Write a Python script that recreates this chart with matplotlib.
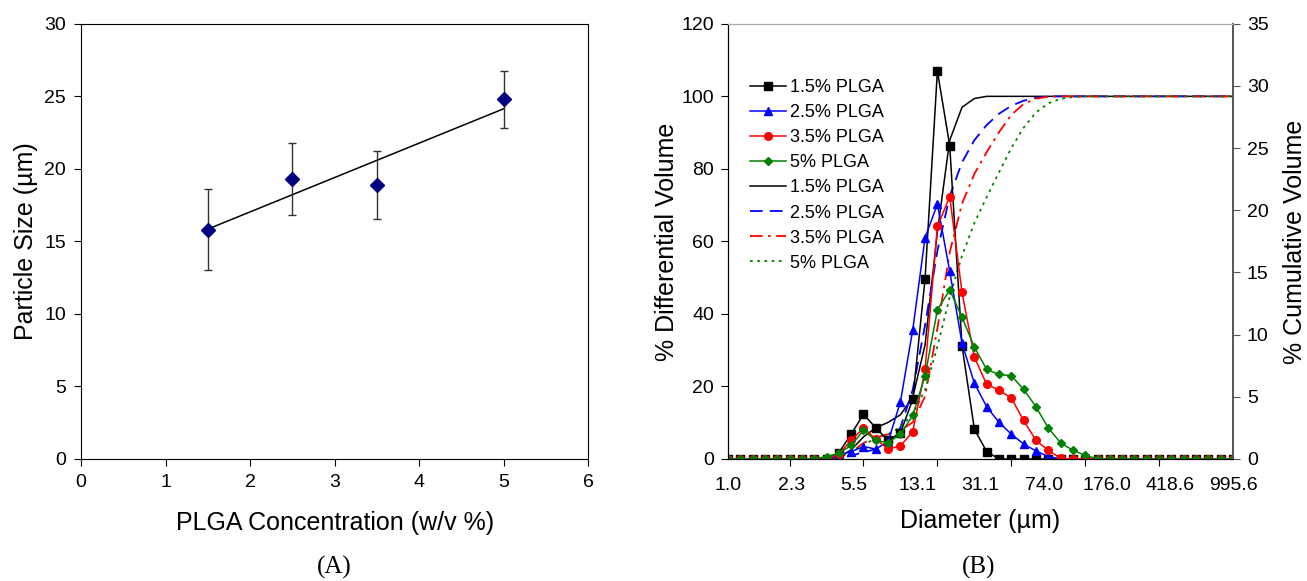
import matplotlib.pyplot as plt
import numpy as np

plt.rcParams["font.family"] = ["Liberation Sans", "DejaVu Sans"]

# panel A: mean particle size vs PLGA concentration
conc = [1.5, 2.5, 3.5, 5.0]
size_mean = [15.8, 19.3, 18.9, 24.8]
size_err = [2.8, 2.5, 2.35, 1.95]

# panel B: size distribution (Coulter bins), 42 bins
bin_labels = ["1.0", "2.3", "5.5", "13.1", "31.1", "74.0", "176.0", "418.6", "995.6"]

diff_15 = [0] * 9 + [0.5, 2.0, 3.6, 2.5, 1.5, 2.1, 4.8, 14.5, 31.2, 25.2, 9.1, 2.4, 0.6] + [0] * 20
diff_25 = [0] * 9 + [0.3, 0.6, 1.0, 0.8, 1.4, 4.6, 10.4, 17.8, 20.5, 15.1, 9.3, 6.1, 4.2,
                     2.95, 2.0, 1.2, 0.65, 0.2] + [0] * 15
diff_35 = [0] * 9 + [0.4, 1.5, 2.5, 1.6, 0.8, 1.05, 2.2, 7.2, 18.7, 21.1, 13.4, 8.2, 6.0,
                     5.55, 4.9, 3.1, 1.5, 0.7, 0.05] + [0] * 14
diff_5 = [0] * 8 + [0.2, 0.45, 1.1, 2.3, 1.5, 1.3, 2.0, 3.5, 6.7, 12.0, 13.6, 11.4, 9.0, 7.2,
                    6.8, 6.7, 5.6, 4.2, 2.5, 1.3, 0.7, 0.3] + [0] * 12

cum_15 = [0] * 9 + [0.5, 2.5, 6.1, 8.6, 10.1, 12.2, 17.0, 31.5, 62.7, 87.9, 97.0, 99.4, 100] + [100] * 20
cum_25 = [0] * 9 + [0.3, 0.9, 1.9, 2.7, 4.1, 8.7, 19.1, 36.9, 57.4, 72.5, 81.8, 87.9, 92.1,
                    95.2, 97.4, 98.8, 99.6, 100] + [100] * 15
cum_35 = [0] * 9 + [0.4, 1.9, 4.4, 6.0, 6.8, 7.9, 10.1, 17.3, 36.0, 57.0, 70.4, 78.6, 84.6,
                    90.1, 94.9, 97.9, 99.4, 99.9, 100] + [100] * 14
cum_5 = [0] * 8 + [0.2, 0.65, 1.75, 4.05, 5.55, 6.85, 8.85, 12.35, 19.05, 31.05, 44.65, 56.05,
                   65.05, 72.25, 79.05, 85.75, 91.35, 95.55, 98.05, 99.35, 99.8, 100] + [100] * 12

fig = plt.figure(figsize=(13.07, 5.81), dpi=100)

# ---- (A)
axA = fig.add_axes([0.062, 0.21, 0.388, 0.749])
fit = np.polyfit(conc, size_mean, 1)
axA.plot(conc, np.polyval(fit, conc), color="black", lw=1.1, zorder=2)
axA.errorbar(conc, size_mean, yerr=size_err, fmt="D", color="#000080", ms=7,
             ecolor="#333333", elinewidth=1.0, capsize=3, capthick=1.0, zorder=3)
axA.set_xlim(0, 6)
axA.set_ylim(0, 30)
axA.set_xticks(range(0, 7))
axA.set_yticks(range(0, 31, 5))
axA.tick_params(direction="out", length=5, labelsize=14, width=0.8, pad=6)
axA.set_xlabel("PLGA Concentration (w/v %)", fontsize=18, labelpad=14)
axA.set_ylabel("Particle Size (µm)", fontsize=18, labelpad=4)
for s in axA.spines.values():
    s.set_linewidth(0.8)
fig.text(0.256, 0.012, "(A)", fontsize=18, family="Liberation Serif", ha="center")

# ---- (B)
axB = fig.add_axes([0.557, 0.21, 0.3864, 0.749])
axC = axB.twinx()
idx = np.arange(len(diff_15))

axB.plot(idx, cum_15, color="black", lw=1.1, ls="-")
axB.plot(idx, cum_25, color="blue", lw=1.3, ls=(0, (7, 4)))
axB.plot(idx, cum_35, color="red", lw=1.3, ls=(0, (7, 3, 1.5, 3)))
axB.plot(idx, cum_5, color="green", lw=1.3, ls=(0, (1.5, 2.5)))

axC.plot(idx, diff_15, color="black", lw=1.1, marker="s", ms=5.5)
axC.plot(idx, diff_25, color="blue", lw=1.1, marker="^", ms=5.5)
axC.plot(idx, diff_35, color="red", lw=1.1, marker="o", ms=5.5)
axC.plot(idx, diff_5, color="green", lw=1.1, marker="D", ms=4)

axB.set_xlim(0, len(idx) - 1)
axB.set_ylim(0, 120)
axB.set_yticks(range(0, 121, 20))
axC.set_ylim(0, 35)
axC.set_yticks(range(0, 36, 5))

axB.set_xticks(np.linspace(0, len(idx) - 1, len(bin_labels)))
axB.set_xticklabels(bin_labels)
axB.set_xticks(idx[::-1][::6], minor=True)
axB.tick_params(axis="x", which="major", length=0, pad=13, labelsize=14)
axB.tick_params(axis="x", which="minor", length=5, direction="out", width=0.8)
axB.tick_params(axis="y", direction="out", length=5, labelsize=14, width=0.8, pad=5)
axC.tick_params(axis="y", direction="out", length=5, labelsize=14, width=0.8, pad=5,
                color="#555555")

axB.set_xlabel("Diameter (µm)", fontsize=18, labelpad=11)
axB.set_ylabel("% Differential Volume", fontsize=18, labelpad=2)
axC.set_ylabel("% Cumulative Volume", fontsize=18, labelpad=10)

for a in (axB, axC):
    a.spines["top"].set_color("#aaaaaa")
    a.spines["right"].set_color("#555555")
    for s in a.spines.values():
        s.set_linewidth(0.8)
    a.spines["right"].set_linewidth(1.2)

names = ["1.5% PLGA", "2.5% PLGA", "3.5% PLGA", "5% PLGA"]
handles = axC.get_lines() + axB.get_lines()
labels = names + names
axC.legend(handles, labels, loc="upper left", bbox_to_anchor=(0.03, 0.89), frameon=False,
           fontsize=13, handlelength=2.0, handletextpad=0.2, labelspacing=0.45, borderaxespad=0)
fig.text(0.749, 0.012, "(B)", fontsize=18, family="Liberation Serif", ha="center")

plt.savefig("out.png", dpi=100, facecolor="white")
plt.close()
